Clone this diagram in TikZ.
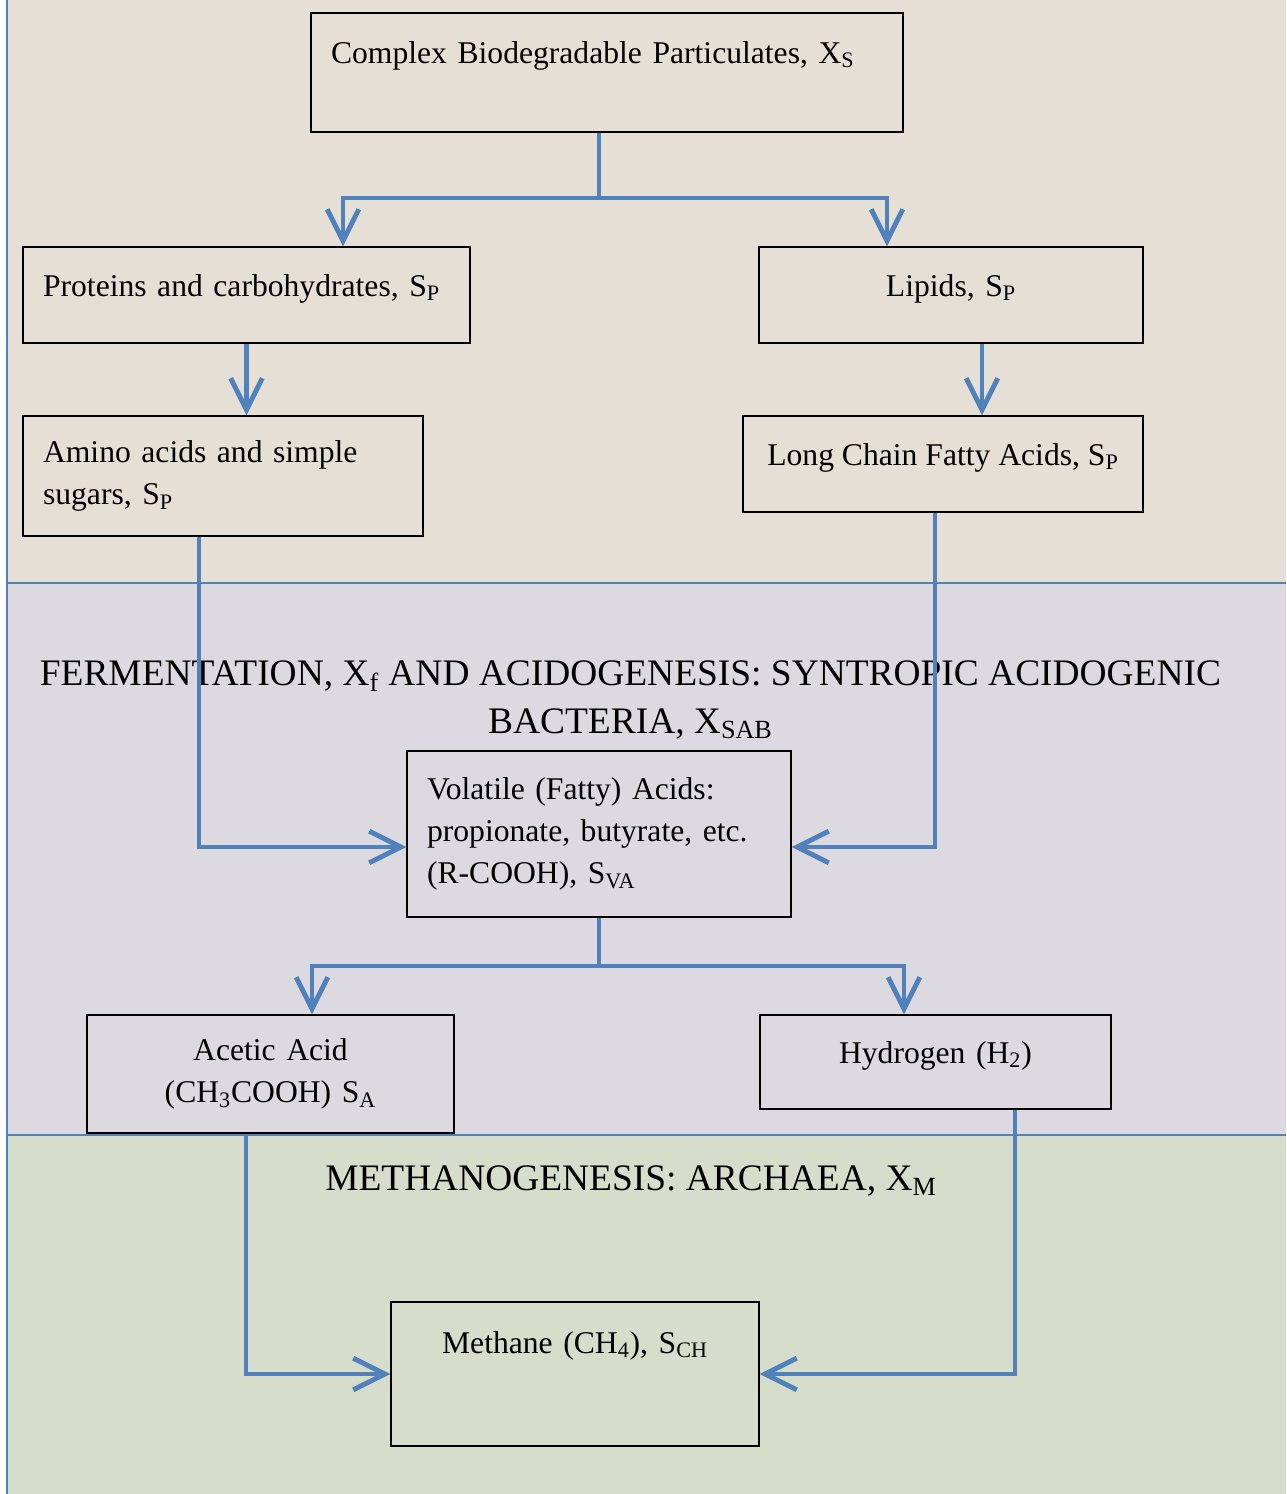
\documentclass[tikz,border=0pt]{standalone}
\usepackage{fontspec}
\setmainfont{Liberation Serif}
\usetikzlibrary{positioning,arrows.meta,calc}
\definecolor{bandtan}{HTML}{E6DFD6}
\definecolor{bandgrey}{HTML}{DCDAE0}
\definecolor{bandgreen}{HTML}{D6DDCA}
\definecolor{flowblue}{HTML}{4F81BD}
\tikzset{
    box/.style = {
        draw,
        shape=rectangle,
        line width=0.8pt,
        inner xsep=0.4cm,
        font=\fontsize{18}{24}\selectfont
    },
    oneline/.style = {
        text height=0.45cm,
        text depth=0.4cm
    },
    title/.style = {
        align=center,
        font=\fontsize{21.3}{27.3}\selectfont
    },
    flow/.style = {
        draw=flowblue,
        line width=2.8pt
    },
    border/.style = {
        draw=flowblue,
        line width=1pt
    },
    >={Straight Barb[length=18pt,width=18pt]},
}

\begin{document}
\begin{tikzpicture}[x=0.02cm, y=-0.02cm]
        \useasboundingbox (0,0) rectangle (1286,1494);
        % bands
        \fill[bandtan] (7,0) rectangle (1286,583);
        \fill[bandgrey] (7,583) rectangle (1286,1135);
        \fill[bandgreen] (7,1135) rectangle (1286,1494);
        \draw[border] (7,0) -- (7,1494);
        \draw[border] (7,583) -- (1286,583);
        \draw[border] (7,1135) -- (1286,1135);

        \node[title] (ferment) at (630.5,700) {FERMENTATION, X\textsubscript{f} AND ACIDOGENESIS: SYNTROPIC ACIDOGENIC\\ BACTERIA, X\textsubscript{SAB}};
        \node[title, anchor=base] (methano) at (631,1190) {METHANOGENESIS: ARCHAEA, X\textsubscript{M}};

        % boxes
        \node[box, minimum height=2.38cm, text width=11.04cm, align=left, text height=0.5cm, text depth=0.88cm] (cbp) at (607,72.5) {Complex Biodegradable Particulates, X\textsubscript{S}};
        \node[box, oneline, minimum height=1.92cm, text width=8.14cm, align=left] (prot) at (246.5,295) {Proteins and carbohydrates, S\textsubscript{P}};
        \node[box, oneline, minimum height=1.92cm, text width=6.88cm, align=center] (lip) at (951,295) {Lipids, S\textsubscript{P}};
        \node[box, minimum height=2.4cm, text width=7.2cm, align=left] (amino) at (223,476) {Amino acids and simple\\ sugars, S\textsubscript{P}};
        \node[box, oneline, minimum height=1.92cm, minimum width=8cm] (lcfa) at (943,464) {Long Chain Fatty Acids, S\textsubscript{P}};
        \node[box, minimum height=3.32cm, text width=6.88cm, align=left] (vfa) at (599,834) {Volatile (Fatty) Acids:\\ propionate, butyrate, etc.\\ (R-COOH), S\textsubscript{VA}};
        \node[box, minimum height=2.36cm, text width=6.54cm, align=center] (acetic) at (270.5,1074) {Acetic Acid\\ (CH\textsubscript{3}COOH) S\textsubscript{A}};
        \node[box, oneline, minimum height=1.88cm, text width=6.22cm, align=center] (hyd) at (935.5,1062) {Hydrogen (H\textsubscript{2})};
        \node[box, minimum height=2.88cm, text width=6.56cm, align=center, text height=0.5cm, text depth=1.34cm] (meth) at (575,1374) {Methane (CH\textsubscript{4}), S\textsubscript{CH}};

        % junctions
        \coordinate (split1) at (599,198);
        \coordinate (split2) at (599,966);
        \coordinate (protx) at (343,0);
        \coordinate (lipx) at (887,0);
        \coordinate (lipdown) at (982,0);
        \coordinate (aminox) at (199,0);
        \coordinate (lcfax) at (935,0);
        \coordinate (vfain) at (0,847);
        \coordinate (aceticx) at (312,0);
        \coordinate (hydx) at (904,0);
        \coordinate (aceticdown) at (246,0);
        \coordinate (hyddown) at (1015,0);

        \draw[flow] (cbp.south -| split1) -- (split1);
        \draw[flow, ->] (split1) -| (prot.north -| protx);
        \draw[flow, ->] (split1) -| (lip.north -| lipx);
        \draw[flow, ->] (prot.south) -- (prot.south |- amino.north);
        \draw[flow, ->] (lip.south -| lipdown) -- (lcfa.north -| lipdown);
        \draw[flow, ->] (amino.south -| aminox) |- (vfa.west |- vfain);
        \draw[flow, ->] (lcfa.south -| lcfax) |- (vfa.east |- vfain);
        \draw[flow] (vfa.south -| split2) -- (split2);
        \draw[flow, ->] (split2) -| (acetic.north -| aceticx);
        \draw[flow, ->] (split2) -| (hyd.north -| hydx);
        \draw[flow, ->] (acetic.south -| aceticdown) |- (meth.west);
        \draw[flow, ->] (hyd.south -| hyddown) |- (meth.east);
\end{tikzpicture}
\end{document}
